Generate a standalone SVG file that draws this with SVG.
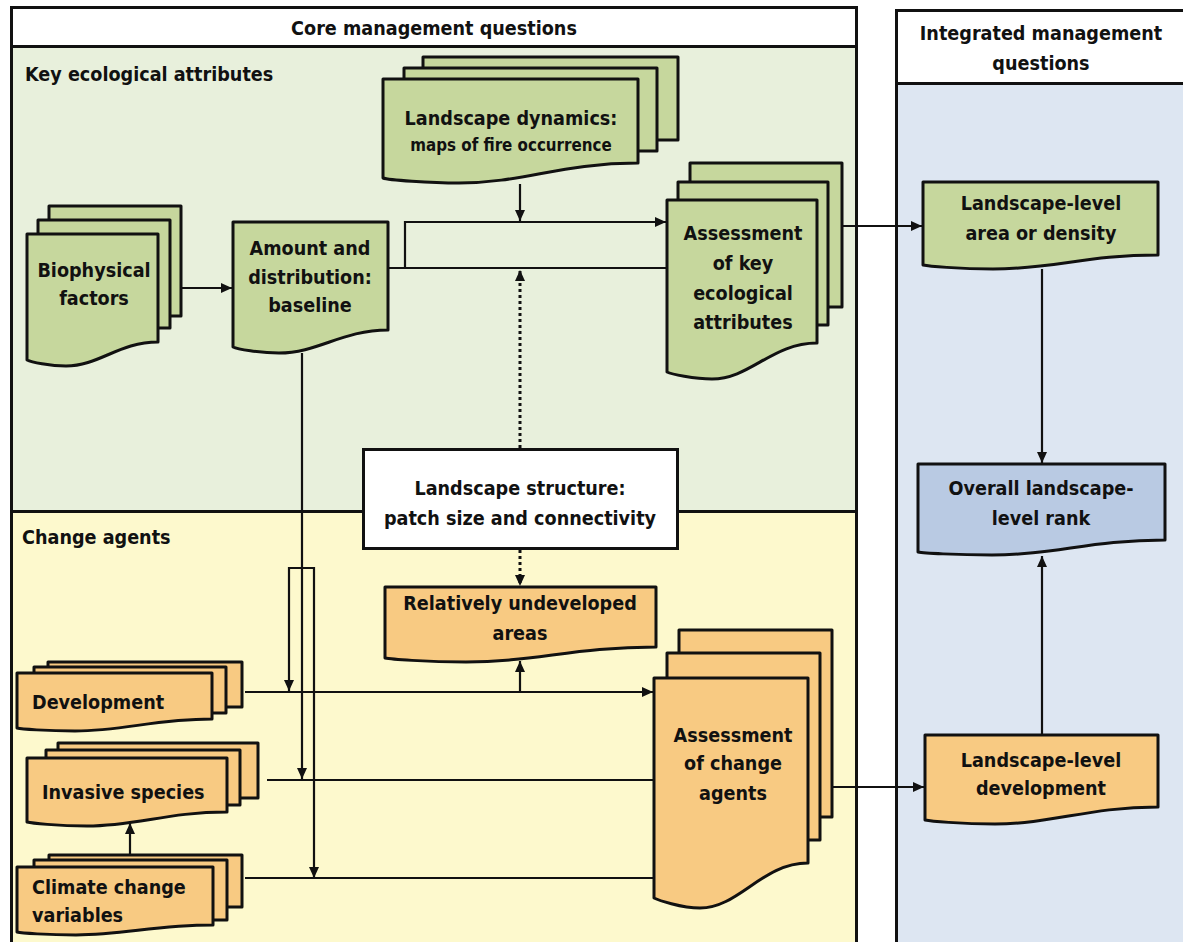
<svg xmlns="http://www.w3.org/2000/svg" width="1183" height="942" viewBox="0 0 1183 942">
<style>
text{font-family:"Liberation Sans Narrow","DejaVu Sans Condensed","Liberation Sans",sans-serif;font-weight:bold;font-size:19.6px;fill:#111;}
.c{text-anchor:middle;}
.sm{font-size:16.8px;}
.frame{fill:none;stroke:#111;stroke-width:3;}
.g{fill:#c6d79d;stroke:#111;stroke-width:3;stroke-linejoin:round;}
.o{fill:#f8ca82;stroke:#111;stroke-width:3;stroke-linejoin:round;}
.b{fill:#b9cae3;stroke:#111;stroke-width:3;stroke-linejoin:round;}
.w{fill:#fff;stroke:#111;stroke-width:3;}
.ln{fill:none;stroke:#111;stroke-width:2.2;}
.ar{marker-end:url(#ah);}
.dot{stroke-width:3;stroke-dasharray:3 3;}
</style>
<defs>
<marker id="ah" markerUnits="userSpaceOnUse" markerWidth="12" markerHeight="10" refX="11" refY="5" orient="auto">
<path d="M0,0 L11,5 L0,10 z" fill="#111"/>
</marker>
</defs>
<rect width="1183" height="942" fill="#fff"/>
<g id="panels">
<rect x="11" y="46" width="845" height="465" fill="#e8f0dc"/>
<rect x="11" y="511" width="845" height="431" fill="#fdf9cd"/>
<rect x="896" y="83" width="287" height="859" fill="#dde6f2"/>
<rect class="frame" x="11.5" y="7.5" width="845" height="945"/>
<line class="frame" x1="11" y1="46.5" x2="856" y2="46.5"/>
<line class="frame" x1="11" y1="511.5" x2="856" y2="511.5"/>
<rect class="frame" x="896.5" y="10.5" width="300" height="945"/>
<line class="frame" x1="896" y1="83.5" x2="1183" y2="83.5"/>
<text class="c" x="434" y="35">Core management questions</text>
<text class="c" x="1041" y="40">Integrated management</text>
<text class="c" x="1041" y="70">questions</text>
<text x="25" y="81">Key ecological attributes</text>
<text x="22" y="544">Change agents</text>
</g>
<g id="connectors">
<path class="ln ar" d="M181 288 H232"/>
<path class="ln" d="M388 268 H667"/>
<path class="ln ar" d="M405 268 V222 H666"/>
<path class="ln ar" d="M520 184 V221"/>
<path class="ln ar dot" d="M520 448 V270"/>
<path class="ln ar dot" d="M520 550 V586"/>
<path class="ln ar" d="M842 226 H922"/>
<path class="ln ar" d="M1042 269 V463"/>
<path class="ln ar" d="M1042 735 V556"/>
<path class="ln ar" d="M832 787 H924"/>
<path class="ln ar" d="M302 353 V779"/>
<path class="ln ar" d="M302 568 H289 V691"/>
<path class="ln ar" d="M302 568 H314 V878"/>
<path class="ln ar" d="M245 692 H653"/>
<path class="ln ar" d="M520 692 V661"/>
<path class="ln" d="M267 780 H654"/>
<path class="ln" d="M245 878 H654"/>
<path class="ln ar" d="M130 855 V823"/>
</g>
<g id="biophysical">
<rect class="g" x="49" y="206" width="132" height="110"/>
<rect class="g" x="38" y="220" width="132" height="108"/>
<path class="g" d="M27 234 H158 V342 C119 342 99 366 66 366 C50 366 31 362 27 360 Z"/>
<text class="c" x="94" y="277">Biophysical</text>
<text class="c" x="94" y="305">factors</text>
</g>
<g id="amount">
<path class="g" d="M233 222 H388 V330 C342 330 318 353 279 353 C260 353 237 349 233 347 Z"/>
<text class="c" x="310" y="255">Amount and</text>
<text class="c" x="310" y="284">distribution:</text>
<text class="c" x="310" y="312">baseline</text>
</g>
<g id="dynamics">
<rect class="g" x="423" y="57" width="255" height="83"/>
<rect class="g" x="404" y="68" width="253" height="83"/>
<path class="g" d="M383 79 H638 V163 C561 163 523 183 459 183 C430 183 388 180 383 178 Z"/>
<text class="c" x="511" y="125">Landscape dynamics:</text>
<text class="c sm" x="511" y="151">maps of fire occurrence</text>
</g>
<g id="assess-key">
<rect class="g" x="690" y="163" width="152" height="144"/>
<rect class="g" x="678" y="182" width="150" height="143"/>
<path class="g" d="M667 200 H817 V343 C772 343 750 379 712 379 C694 379 671 374 667 372 Z"/>
<text class="c" x="743" y="240">Assessment</text>
<text class="c" x="743" y="270">of key</text>
<text class="c" x="743" y="300">ecological</text>
<text class="c" x="743" y="329">attributes</text>
</g>
<g id="ll-area">
<path class="g" d="M923 182 H1158 V255 C1088 255 1052 269 993 269 C958 269 928 266 923 265 Z"/>
<text class="c" x="1041" y="210">Landscape-level</text>
<text class="c" x="1041" y="240">area or density</text>
</g>
<g id="overall">
<path class="b" d="M918 464 H1165 V540 C1091 540 1054 555 992 555 C955 555 923 553 918 552 Z"/>
<text class="c" x="1041" y="495">Overall landscape-</text>
<text class="c" x="1041" y="525">level rank</text>
</g>
<g id="structure">
<rect class="w" x="363.5" y="449.5" width="314" height="99"/>
<text class="c" x="520" y="495">Landscape structure:</text>
<text class="c" x="520" y="525">patch size and connectivity</text>
</g>
<g id="undeveloped">
<path class="o" d="M385 587 H656 V647 C575 647 534 662 466 662 C425 662 390 659 385 658 Z"/>
<text class="c" x="520" y="610">Relatively undeveloped</text>
<text class="c" x="520" y="640">areas</text>
</g>
<g id="ll-dev">
<path class="o" d="M925 735 H1158 V807 C1088 807 1053 824 995 824 C960 824 930 821 925 820 Z"/>
<text class="c" x="1041" y="767">Landscape-level</text>
<text class="c" x="1041" y="795">development</text>
</g>
<g id="development">
<rect class="o" x="48" y="662" width="194" height="45"/>
<rect class="o" x="34" y="667" width="192" height="46"/>
<path class="o" d="M17 673 H212 V719 C154 719 124 731 75 731 C46 731 21 729 17 728 Z"/>
<text x="32" y="709">Development</text>
</g>
<g id="invasive">
<rect class="o" x="58" y="743" width="200" height="55"/>
<rect class="o" x="46" y="750" width="194" height="55"/>
<path class="o" d="M27 758 H227 V812 C167 812 137 826 87 826 C57 826 31 823 27 822 Z"/>
<text x="42" y="799">Invasive species</text>
</g>
<g id="climate">
<rect class="o" x="49" y="855" width="193" height="52"/>
<rect class="o" x="34" y="860" width="193" height="60"/>
<path class="o" d="M17 867 H213 V925 C154 925 125 935 76 935 C47 935 21 933 17 932 Z"/>
<text x="32" y="894">Climate change</text>
<text x="32" y="922">variables</text>
</g>
<g id="assess-change">
<rect class="o" x="679" y="630" width="153" height="187"/>
<rect class="o" x="667" y="653" width="153" height="187"/>
<path class="o" d="M654 678 H808 V863 C762 863 739 908 700 908 C681 908 658 900 654 898 Z"/>
<text class="c" x="733" y="742">Assessment</text>
<text class="c" x="733" y="770">of change</text>
<text class="c" x="733" y="800">agents</text>
</g>
</svg>
